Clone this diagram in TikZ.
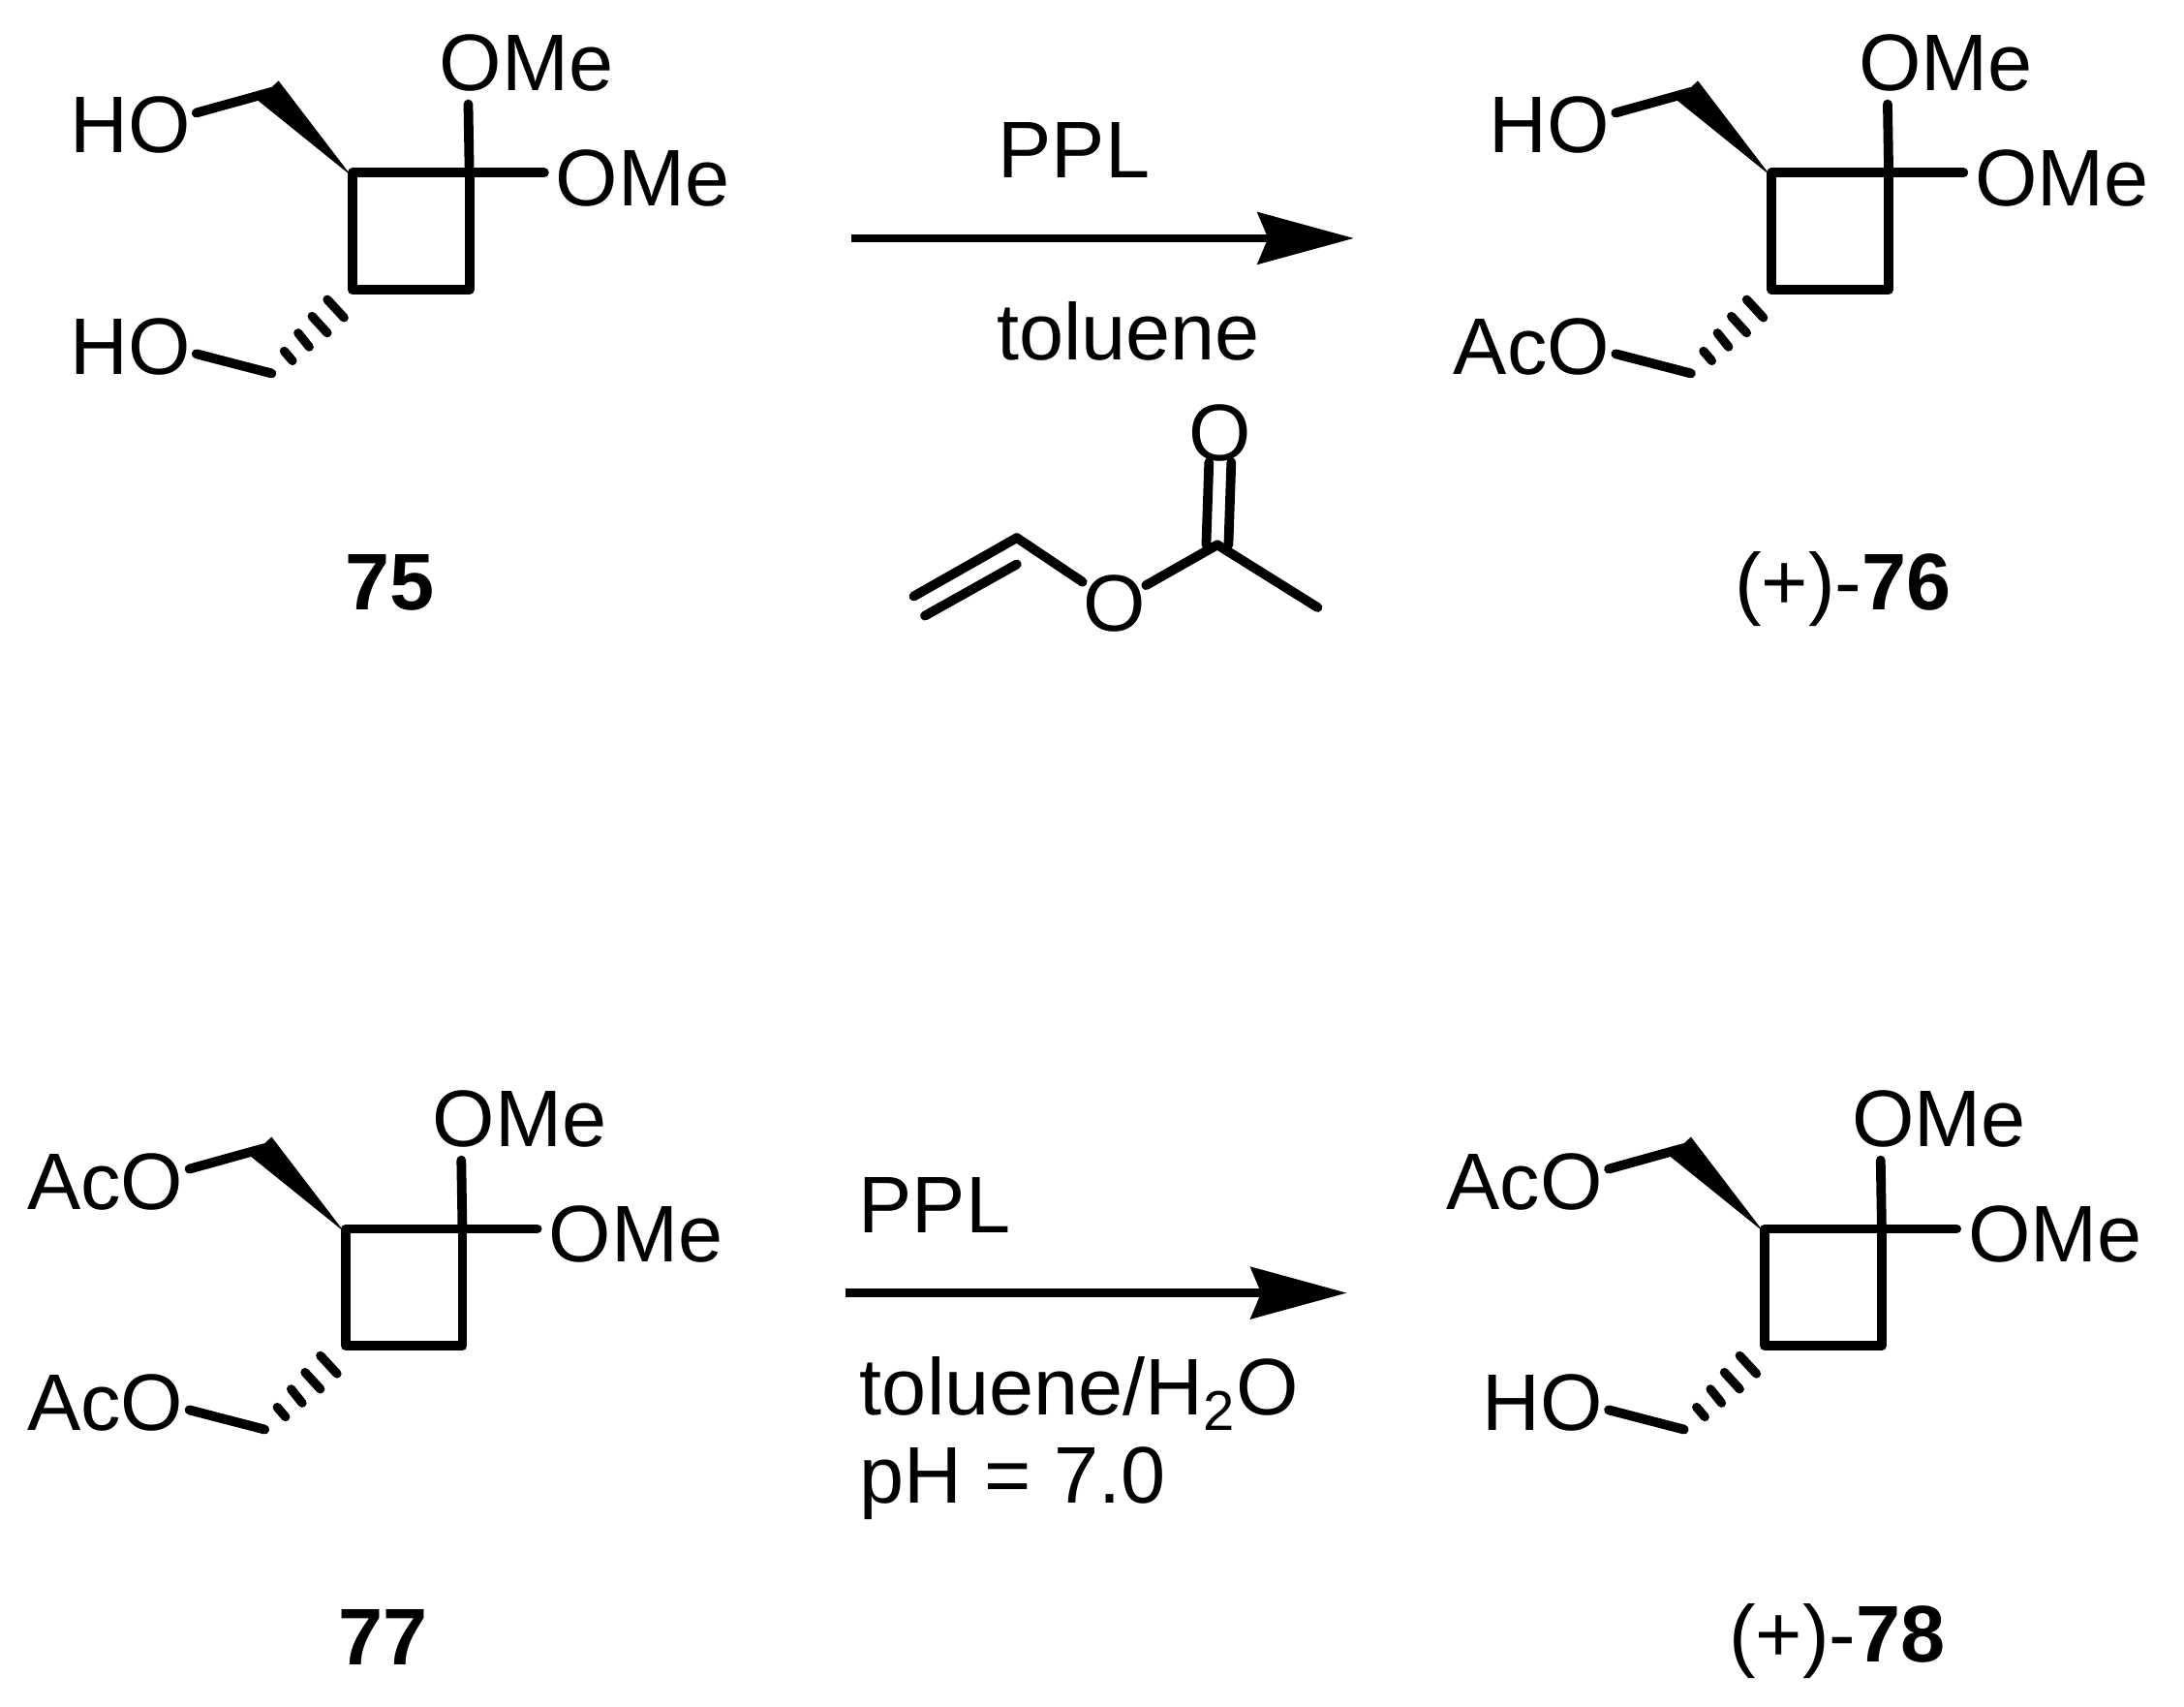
\documentclass[tikz,border=0pt]{standalone}
\usepackage{fontspec}
\setmainfont{Liberation Sans}
\usetikzlibrary{arrows.meta}

\begin{document}
\begin{tikzpicture}[x=0.5pt, y=-0.5pt,
                  main/.style = {inner sep=0pt, font=\fontsize{28.8}{34}\selectfont},
                  bond/.style = {line width=3.4pt, line cap=round, line join=round},
                  hash/.style = {line width=3.2pt, line cap=round},
                  rxn/.style = {line width=2.9pt, -{Stealth[length=34.5pt,width=18.5pt,inset=3.7pt]}}]
                  \useasboundingbox (0,0) rectangle (1568,1225);
                  % the four cyclobutanes
                  \foreach \m/\rx/\ry/\lbla/\lblb in {a/253/124/HO/HO, b/1272/124/HO/AcO, c/248/882/AcO/AcO, d/1267/882/AcO/HO}{
                    \begin{scope}[shift={(\rx,\ry)}]
                      \coordinate (p\m) at (0,0);
                      \coordinate (q\m) at (84,0);
                      \coordinate (r\m) at (84,84);
                      \coordinate (s\m) at (0,84);
                      \coordinate (t\m) at (-58,-58);
                      \coordinate (e\m) at (-58,144);
                      \node[main, anchor=east] (u\m) at (-116,-34) {\lbla};
                      \node[main, anchor=east] (l\m) at (-116,125) {\lblb};
                      \node[main] (v\m) at (125,-79) {OMe};
                      \node[main] (w\m) at (208.5,4) {OMe};
                      \draw[bond] (p\m) -- (q\m) -- (r\m) -- (s\m) -- cycle;
                      \draw[bond] (q\m) -- ([shift={(21,9)}]v\m.south west);
                      \draw[bond] (q\m) -- ([shift={(-8,-4)}]w\m.west);
                      \fill (-1,2) -- (-53,-66) -- (-68,-52) -- cycle;
                      \draw[bond] (t\m) -- ([shift={(4,-9)}]u\m.east);
                      \draw[bond] (e\m) -- ([shift={(4,5)}]l\m.east);
                      \foreach \ax/\ay/\bx/\by in {-18/91/-6/104, -29/103/-18/115, -39/115/-31/125, -49/128/-43/135}
                        \draw[hash] (\ax,\ay) -- (\bx,\by);
                    \end{scope}
                  }
                  % compound numbers
                  \node[main] (n75) at (280,418) {\textbf{75}};
                  \node[main] (n76) at (1323,423) {(+)-\textbf{76}};
                  \node[main] (n77) at (275,1175) {\textbf{77}};
                  \node[main] (n78) at (1319,1178) {(+)-\textbf{78}};
                  % upper reaction
                  \coordinate (x1) at (611,171);
                  \coordinate (y1) at (972,171);
                  \draw[rxn] (x1) -- (y1);
                  \node[main] (ppla) at (771,108) {PPL};
                  \node[main] (tola) at (810,238) {toluene};
                  % vinyl acetate
                  \node[main] (o1) at (876,311) {O};
                  \node[main] (o2) at (800,433) {O};
                  \coordinate (c1) at (874,391);
                  \coordinate (c2) at (730,386);
                  \coordinate (c3) at (656,428);
                  \coordinate (c4) at (730,405);
                  \coordinate (c5) at (664,442);
                  \coordinate (c6) at (946,436);
                  \draw[bond] (c2) -- (c3);
                  \draw[bond] (c4) -- (c5);
                  \draw[bond] (c2) -- (o2);
                  \draw[bond] (o2) -- (c1);
                  \draw[bond] (c1) -- (c6);
                  \draw[bond] ([xshift=-4]o1.south) -- ([xshift=-4]c1);
                  \draw[bond] ([xshift=4]o1.south) -- ([xshift=4]c1);
                  % lower reaction
                  \coordinate (x2) at (607,928);
                  \coordinate (y2) at (967,928);
                  \draw[rxn] (x2) -- (y2);
                  \node[main] (pplb) at (671,865) {PPL};
                  \node[main, anchor=west] (tolb) at (617,1000) {toluene/H\textsubscript{2}O};
                  \node[main, anchor=west] (ph) at (617,1065) {pH = 7.0};
              \end{tikzpicture}
\end{document}
